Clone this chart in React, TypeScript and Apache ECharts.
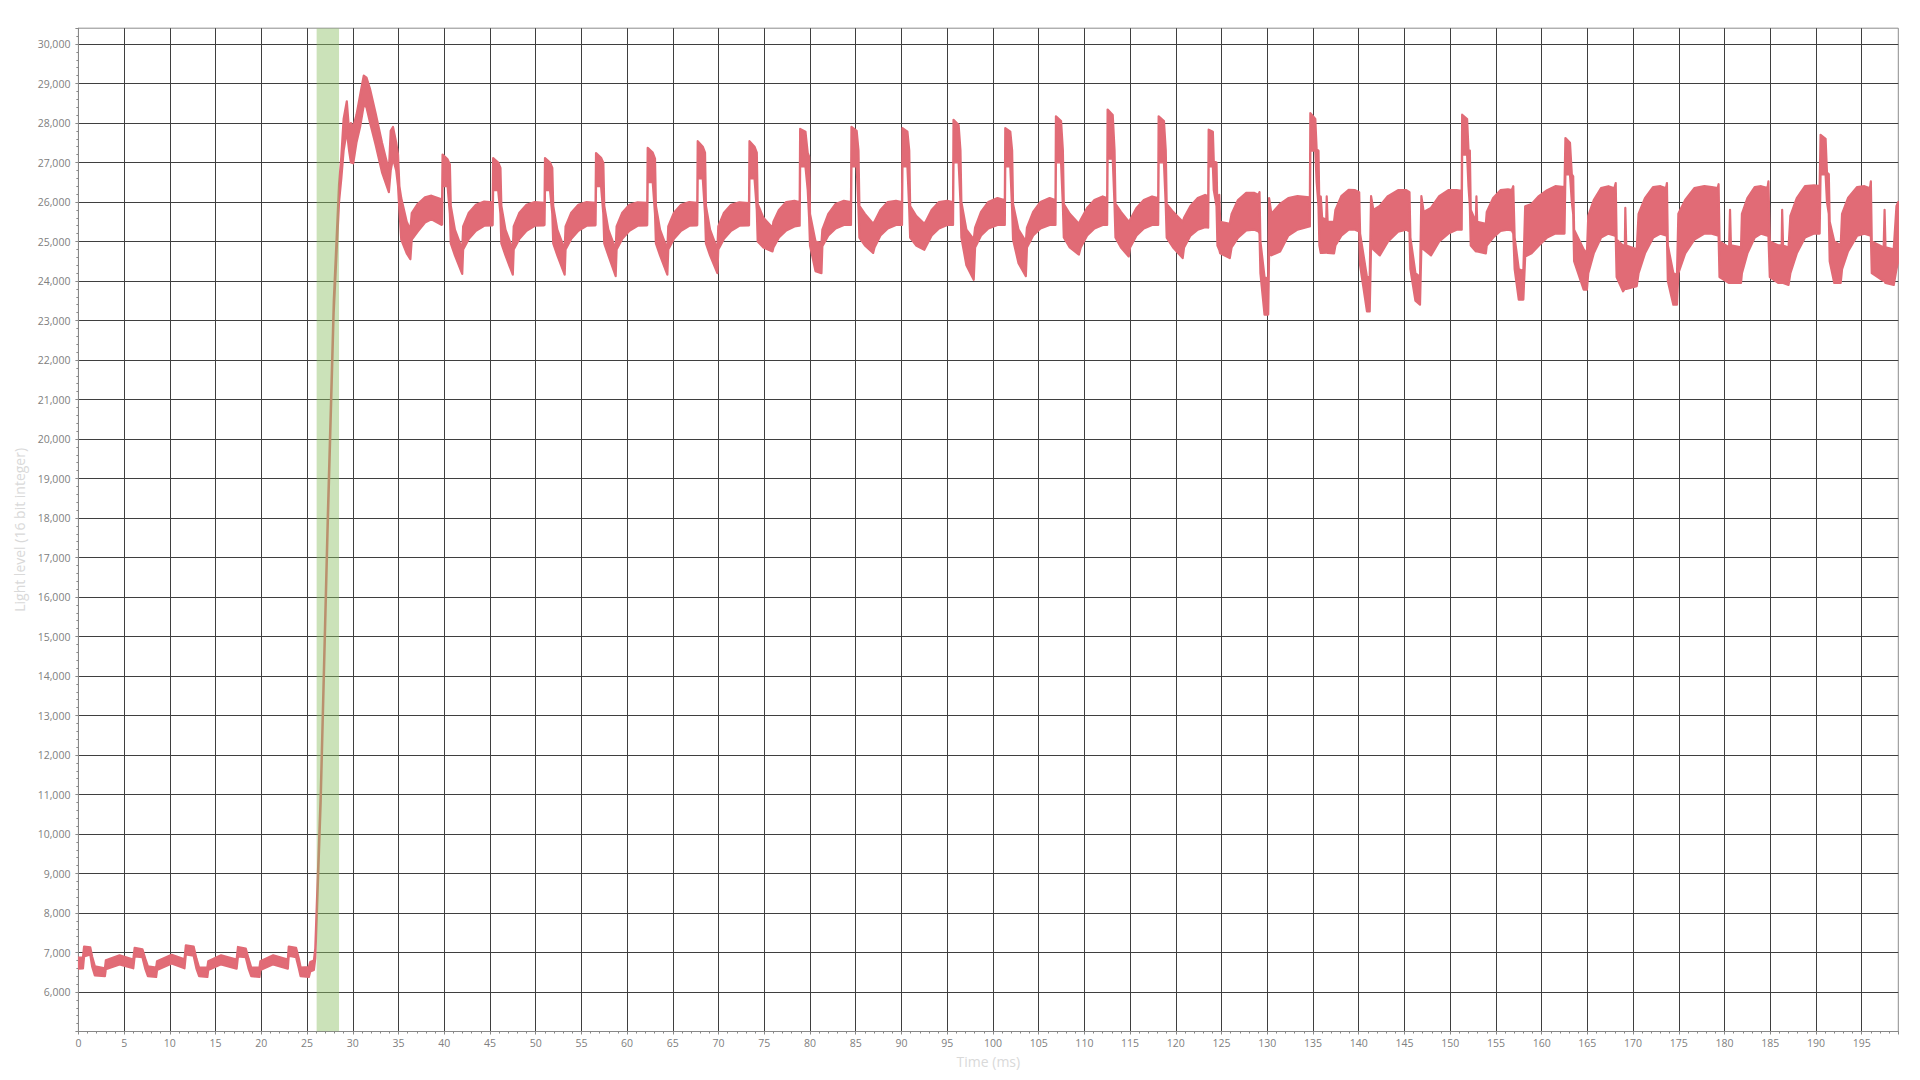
import React, { useEffect, useRef } from "react";
import * as echarts from "echarts";

// Each sample: [time (ms), upper envelope of the ripple band, lower envelope of the ripple band]
const baselineSegment: number[][] = [
  [0.0, 6870, 6590], [0.5, 6870, 6600], [0.62, 7150, 6900], [1.3, 7130, 6950],
  [1.5, 6900, 6650], [1.8, 6650, 6420], [2.9, 6600, 6400], [3.0, 6800, 6580],
  [4.5, 6930, 6700], [6.0, 6820, 6600], [6.15, 7120, 6900], [7.0, 7080, 6880],
  [7.3, 6850, 6600], [7.6, 6650, 6400], [8.5, 6620, 6380], [8.6, 6780, 6560],
  [10.2, 6940, 6720], [11.6, 6830, 6600], [11.75, 7180, 6950], [12.6, 7150, 6920],
  [12.9, 6850, 6600], [13.2, 6620, 6400], [14.1, 6620, 6380], [14.2, 6780, 6560],
  [15.6, 6930, 6700], [17.3, 6820, 6590], [17.45, 7140, 6900], [18.3, 7100, 6880],
  [18.6, 6850, 6600], [18.9, 6620, 6400], [19.8, 6620, 6380], [19.9, 6780, 6560],
  [21.3, 6930, 6700], [22.9, 6820, 6590], [23.0, 7150, 6920], [23.8, 7120, 6880],
  [24.1, 6850, 6600], [24.3, 6620, 6400], [25.2, 6630, 6380], [25.35, 6760, 6520],
  [25.75, 6800, 6560],
];

const riseSegment: number[][] = [
  [25.9, 7100, 6850], [26.06, 8150, 7850], [26.5, 11100, 10800], [27.25, 17950, 17600],
  [27.92, 23500, 23200], [28.5, 26450, 26000], [28.75, 27150, 26600],
];

const overshootSegment: number[][] = [
  [29.0, 28100, 27300], [29.35, 28550, 27800], [29.6, 27800, 27300], [29.8, 28000, 27000],
  [30.05, 27900, 26980], [30.4, 28200, 27500], [30.8, 28700, 27900], [31.2, 29200, 28450],
  [31.5, 29150, 28400], [31.9, 28850, 28000], [32.5, 28250, 27450], [33.2, 27500, 26750],
  [33.95, 26800, 26250], [34.15, 27800, 26800], [34.4, 27900, 27100], [34.75, 27500, 26800],
  [34.95, 27200, 26400], [35.1, 26400, 25800], [35.3, 26100, 25050], [35.9, 25500, 24700],
  [36.3, 25300, 24550], [36.45, 25720, 25050], [37.1, 25950, 25250], [37.9, 26120, 25480],
  [38.6, 26160, 25560], [39.7, 26070, 25420],
];

const cyclesEarly: number[][] = [
  [39.77, 26050, 25430], [39.82, 27200, 26400], [40.37, 27080, 26400], [40.62, 26950, 25700],
  [40.72, 25900, 24950], [41.17, 25300, 24650], [41.97, 24800, 24180], [42.07, 25380, 24800],
  [42.67, 25720, 25060], [43.47, 25930, 25270], [44.37, 26010, 25400], [45.25, 25990, 25410],
  [45.3, 26000, 25420], [45.35, 27110, 26300], [45.9, 27000, 26300], [46.15, 26860, 25700],
  [46.25, 25900, 24950], [46.7, 25300, 24650], [47.5, 24800, 24160], [47.6, 25380, 24800],
  [48.2, 25720, 25060], [49.0, 25930, 25270], [49.9, 26000, 25400], [50.9, 25980, 25410],
  [50.97, 26000, 25420], [51.02, 27110, 26300], [51.57, 27000, 26300], [51.82, 26860, 25700],
  [51.92, 25900, 24950], [52.37, 25300, 24650], [53.17, 24800, 24160], [53.27, 25380, 24800],
  [53.87, 25720, 25060], [54.67, 25930, 25270], [55.57, 26000, 25400], [56.5, 25980, 25410],
  [56.55, 26000, 25420], [56.6, 27240, 26400], [57.15, 27120, 26400], [57.4, 26990, 25700],
  [57.5, 25900, 24950], [57.95, 25300, 24650], [58.75, 24800, 24120], [58.85, 25380, 24800],
  [59.45, 25720, 25060], [60.25, 25930, 25270], [61.15, 25990, 25400], [62.15, 25980, 25410],
  [62.2, 26000, 25420], [62.25, 27370, 26500], [62.8, 27250, 26500], [63.05, 27100, 25700],
  [63.15, 25900, 24950], [63.6, 25300, 24650], [64.4, 24800, 24160], [64.5, 25380, 24800],
  [65.1, 25720, 25060], [65.9, 25930, 25270], [66.8, 26000, 25400], [67.62, 25980, 25410],
  [67.67, 26000, 25420], [67.72, 27540, 26600], [68.27, 27400, 26600], [68.52, 27250, 25700],
  [68.62, 25900, 24950], [69.07, 25300, 24650], [69.87, 24800, 24200], [69.97, 25380, 24800],
  [70.57, 25720, 25060], [71.37, 25930, 25270], [72.27, 25990, 25400], [73.28, 25970, 25410],
  [73.33, 25980, 25410], [73.38, 27540, 26600], [73.93, 27400, 26600], [74.18, 27250, 25800],
  [74.28, 25950, 25000], [74.9, 25600, 24850], [75.9, 25350, 24750], [76.0, 25500, 24850],
  [76.6, 25800, 25100], [77.4, 26000, 25280], [78.3, 26030, 25380], [78.82, 26000, 25400],
];

const cyclesMid: number[][] = [
  [78.87, 26000, 25400], [78.92, 27850, 26900], [79.5, 27780, 26900], [79.75, 27240, 26300],
  [79.9, 27150, 25600], [80.0, 25700, 24900], [80.6, 25000, 24250], [81.25, 24960, 24200],
  [81.35, 25300, 24880], [82.0, 25700, 25150], [82.8, 25950, 25330], [83.7, 26030, 25420],
  [84.43, 26000, 25420], [84.48, 26000, 25420], [84.53, 27900, 26900], [85.1, 27800, 26900],
  [85.3, 27300, 25800], [85.4, 25900, 25100], [86.0, 25700, 24900], [86.9, 25450, 24710],
  [87.05, 25500, 24850], [87.7, 25800, 25150], [88.5, 26000, 25330], [89.4, 26030, 25420],
  [90.01, 26000, 25420], [90.06, 26000, 25420], [90.11, 27870, 26900], [90.65, 27780, 26900],
  [90.85, 27300, 25800], [90.95, 25900, 25100], [91.6, 25650, 24900], [92.5, 25450, 24790],
  [92.65, 25500, 24860], [93.3, 25800, 25150], [94.1, 26000, 25330], [95.0, 26030, 25420],
  [95.59, 26000, 25420], [95.64, 26000, 25420], [95.69, 28080, 27000], [96.25, 27950, 27000],
  [96.45, 27300, 26000], [96.55, 26000, 25100], [97.1, 25300, 24400], [97.9, 25050, 24030],
  [98.05, 25350, 24850], [98.7, 25750, 25150], [99.5, 26000, 25330], [100.5, 26100, 25420],
  [101.25, 26050, 25420], [101.3, 26050, 25420], [101.35, 27870, 26900], [101.9, 27780, 26900],
  [102.1, 27300, 25800], [102.2, 25950, 25050], [102.8, 25300, 24450], [103.6, 25000, 24120],
  [103.72, 25350, 24850], [104.4, 25750, 25150], [105.2, 26000, 25330], [106.2, 26100, 25420],
  [106.79, 26050, 25420], [106.84, 26050, 25420], [106.89, 28170, 27000], [107.45, 28050, 27000],
  [107.65, 27300, 25900], [107.75, 25950, 25100], [108.4, 25700, 24850], [109.4, 25450, 24670],
  [109.6, 25550, 24850], [110.3, 25850, 25150], [111.1, 26050, 25330], [112.0, 26140, 25420],
  [112.44, 26100, 25420], [112.49, 26100, 25420], [112.54, 28340, 27100], [113.1, 28200, 27100],
  [113.3, 27300, 25900], [113.4, 25950, 25100], [114.0, 25750, 24850], [114.85, 25500, 24620],
  [115.0, 25550, 24850], [115.7, 25850, 25150], [116.5, 26050, 25330], [117.4, 26140, 25420],
  [118.02, 26100, 25420], [118.07, 26100, 25420], [118.12, 28170, 27000], [118.7, 28050, 27000],
  [118.9, 27300, 25900], [119.0, 25950, 25100], [119.7, 25750, 24850], [120.75, 25500, 24580],
  [120.9, 25600, 24850], [121.6, 25900, 25150], [122.4, 26100, 25300], [123.2, 26180, 25360],
  [123.49, 26150, 25360],
];

const cyclesLate: number[][] = [
  [123.54, 26150, 25350], [123.59, 27830, 26900], [124.05, 27780, 26900], [124.15, 27030, 26300],
  [124.45, 27000, 25900], [124.55, 25700, 24900], [124.75, 26180, 24790], [124.85, 25500, 24700],
  [125.9, 25450, 24580], [126.1, 25700, 24850], [126.8, 26050, 25100], [127.7, 26230, 25280],
  [128.6, 26230, 25300], [129.05, 26180, 25250], [129.15, 26250, 25200], [129.25, 25000, 24200],
  [129.7, 24100, 23150], [130.1, 24050, 23150], [130.2, 26100, 24700], [130.45, 25700, 24650],
  [131.4, 25950, 24750], [132.3, 26100, 25150], [133.3, 26150, 25300], [134.6, 26120, 25380],
  [134.66, 26120, 25380], [134.71, 28250, 27300], [135.25, 28100, 27300], [135.4, 27330, 26500],
  [135.6, 27300, 25900], [135.7, 25800, 24900], [135.85, 26140, 24710], [136.0, 25600, 24710],
  [136.45, 25550, 24720], [136.5, 26140, 24750], [136.6, 25500, 24710], [137.3, 25500, 24700],
  [137.45, 25800, 24900], [138.1, 26150, 25150], [138.9, 26310, 25300], [139.6, 26300, 25300],
  [140.05, 26250, 25250], [140.15, 25200, 24400], [140.9, 24100, 23230], [141.2, 24100, 23230],
  [141.35, 26150, 24900], [141.6, 25800, 24800], [142.3, 25900, 24650], [143.2, 26150, 25000],
  [144.3, 26300, 25250], [145.2, 26300, 25300], [145.55, 26250, 25250], [145.65, 25100, 24300],
  [146.2, 24200, 23500], [146.7, 24100, 23400], [146.85, 26150, 24850], [147.1, 25750, 24800],
  [147.9, 25850, 24650], [148.8, 26150, 25000], [149.8, 26300, 25200], [150.7, 26300, 25300],
  [151.21, 26280, 25300], [151.26, 26280, 25300], [151.31, 28210, 27200], [151.85, 28100, 27200],
  [152.0, 27330, 26400], [152.15, 27300, 25900], [152.25, 25800, 24900], [152.8, 25500, 24750],
  [152.87, 26140, 24750], [152.95, 25500, 24750], [153.9, 25450, 24700], [154.0, 25750, 24900],
  [154.7, 26100, 25100], [155.5, 26300, 25270], [156.3, 26320, 25300], [156.75, 26300, 25280],
  [156.9, 26400, 25200], [157.05, 25100, 24300], [157.5, 24300, 23530], [158.0, 24250, 23530],
  [158.2, 25890, 24620], [158.9, 25950, 24700], [159.7, 26150, 24900],
];

const cyclesEnd: number[][] = [
  [160.6, 26300, 25100], [161.5, 26400, 25200], [162.5, 26380, 25200], [162.6, 27620, 26700],
  [163.1, 27500, 26700], [163.3, 26700, 26000], [163.45, 26650, 25700], [163.55, 25300, 24500],
  [164.6, 24800, 23780], [164.95, 24700, 23780], [165.1, 25650, 24200], [165.7, 26050, 24700],
  [166.5, 26350, 25100], [167.3, 26400, 25200], [167.95, 26350, 25150], [168.1, 26480, 25150],
  [168.2, 25050, 24100], [168.9, 24900, 23740], [169.1, 24900, 23800], [169.15, 25850, 23800],
  [169.25, 24900, 23800], [170.4, 24800, 23870], [170.6, 25700, 24200], [171.3, 26100, 24700],
  [172.2, 26380, 25100], [173.0, 26400, 25200], [173.6, 26350, 25150], [173.7, 26480, 25150],
  [173.8, 24900, 24000], [174.4, 24200, 23400], [174.8, 24150, 23400], [174.95, 25700, 24200],
  [175.7, 26050, 24700], [176.7, 26350, 25050], [177.8, 26400, 25200], [178.6, 26380, 25200],
  [179.25, 26350, 25150], [179.35, 26450, 25150], [179.45, 25000, 24100], [180.5, 24850, 23950],
  [180.6, 25800, 23950], [180.7, 24900, 23950], [181.8, 24850, 23950], [181.9, 25700, 24200],
  [182.5, 26100, 24700], [183.3, 26380, 25100], [184.0, 26400, 25200], [184.7, 26350, 25150],
  [184.8, 26520, 25150], [184.95, 25000, 24100], [185.9, 24900, 23950], [186.25, 24900, 23950],
  [186.3, 25800, 23950], [186.4, 24900, 23950], [187.0, 24850, 23900], [187.2, 25650, 24200],
  [187.9, 26100, 24700], [188.8, 26400, 25100], [189.8, 26420, 25200], [190.4, 26400, 25200],
  [190.5, 27700, 26700], [191.05, 27600, 26700], [191.2, 26750, 26000], [191.4, 26700, 25700],
  [191.5, 25500, 24500], [192.0, 25000, 23950], [192.7, 24900, 23950], [192.85, 25700, 24300],
  [193.5, 26100, 24750], [194.5, 26380, 25150], [195.3, 26400, 25200], [195.9, 26350, 25150],
  [196.0, 26520, 25150], [196.1, 25000, 24200], [197.4, 24850, 24000], [197.5, 25800, 24000],
  [197.6, 24850, 23950], [198.5, 24800, 23900], [198.8, 25900, 24300], [199.0, 26000, 24500],
];

const xMin = 0;
const xMax = 199;
const xTickStep = 5;
const yMin = 5000;
const yMax = 30400;
const yTickStep = 1000;
const highlightWindow = [26.05, 28.5];

const FONT = "'Open Sans', 'Noto Sans', sans-serif";
const RED = "#e16b76";
const GREEN = "rgba(140,190,100,0.45)";

export default function App() {
  const ref = useRef<HTMLDivElement>(null);

  useEffect(() => {
    if (!ref.current) return;
    const chart = echarts.init(ref.current, null, { renderer: "svg" });
    const samples = [
      ...baselineSegment,
      ...riseSegment,
      ...overshootSegment,
      ...cyclesEarly,
      ...cyclesMid,
      ...cyclesLate,
      ...cyclesEnd,
    ];

    chart.setOption({
      animation: false,
      backgroundColor: "#ffffff",
      textStyle: { fontFamily: FONT },
      grid: {
        left: 78.4,
        right: 21.7,
        top: 28.2,
        bottom: 48.5,
        show: true,
        borderColor: "#8c8c8c",
        borderWidth: 1,
        outerBoundsMode: "none",
      },
      xAxis: {
        type: "value",
        min: xMin,
        max: xMax,
        interval: xTickStep,
        name: "Time (ms)",
        nameLocation: "middle",
        nameGap: 23,
        nameTextStyle: { color: "#d9d9d9", fontSize: 14, fontFamily: FONT },
        axisLine: { show: true, onZero: false, lineStyle: { color: "#888888", width: 1 } },
        axisTick: { show: true, length: 3, lineStyle: { color: "#888888" } },
        minorTick: { show: true, splitNumber: 5, length: 2, lineStyle: { color: "#888888" } },
        splitLine: {
          show: true,
          showMinLine: false,
          showMaxLine: false,
          lineStyle: { color: "#3f3f3f", width: 1 },
        },
        axisLabel: {
          color: "#808080",
          fontSize: 10.5,
          fontFamily: FONT,
          margin: 6,
          showMaxLabel: false,
          formatter: (v: number) => (v % xTickStep === 0 ? String(v) : ""),
        },
      },
      yAxis: {
        type: "value",
        min: yMin,
        max: yMax,
        interval: yTickStep,
        name: "Light level (16 bit integer)",
        nameLocation: "middle",
        nameGap: 51,
        nameTextStyle: { color: "#d9d9d9", fontSize: 14, fontFamily: FONT },
        axisLine: { show: true, onZero: false, lineStyle: { color: "#888888", width: 1 } },
        axisTick: { show: true, length: 3, lineStyle: { color: "#888888" } },
        minorTick: { show: true, splitNumber: 5, length: 2, lineStyle: { color: "#888888" } },
        splitLine: {
          show: true,
          showMinLine: false,
          showMaxLine: false,
          lineStyle: { color: "#3f3f3f", width: 1 },
        },
        axisLabel: {
          color: "#808080",
          fontSize: 10.5,
          fontFamily: FONT,
          margin: 8,
          formatter: (v: number) =>
            v % yTickStep === 0 && v > yMin ? v.toLocaleString("en-US") : "",
        },
      },
      series: [
        {
          name: "Light level",
          type: "custom",
          data: samples,
          encode: { x: 0, y: [1, 2] },
          clip: true,
          z: 2,
          renderItem: (params: any, api: any) => {
            if (params.dataIndex !== 0) return null;
            const pts: number[][] = [];
            for (let i = 0; i < samples.length; i++) {
              pts.push(api.coord([samples[i][0], samples[i][1]]));
            }
            for (let i = samples.length - 1; i >= 0; i--) {
              pts.push(api.coord([samples[i][0], samples[i][2]]));
            }
            return {
              type: "polygon",
              shape: { points: pts },
              style: {
                fill: RED,
                stroke: RED,
                lineWidth: 2.2,
                lineJoin: "round",
              },
            };
          },
        },
        {
          name: "Highlight window",
          type: "custom",
          data: [highlightWindow],
          encode: { x: [0, 1] },
          clip: true,
          z: 10,
          renderItem: (params: any, api: any) => {
            const topLeft = api.coord([api.value(0), yMax]);
            const bottomRight = api.coord([api.value(1), yMin]);
            return {
              type: "rect",
              shape: {
                x: topLeft[0],
                y: topLeft[1],
                width: bottomRight[0] - topLeft[0],
                height: bottomRight[1] - topLeft[1],
              },
              style: { fill: GREEN },
            };
          },
        },
      ],
    });

    return () => chart.dispose();
  }, []);

  return (
    <div
      ref={ref}
      style={{ position: "fixed", left: 0, top: 0, width: 1920, height: 1080, background: "#fff" }}
    />
  );
}
